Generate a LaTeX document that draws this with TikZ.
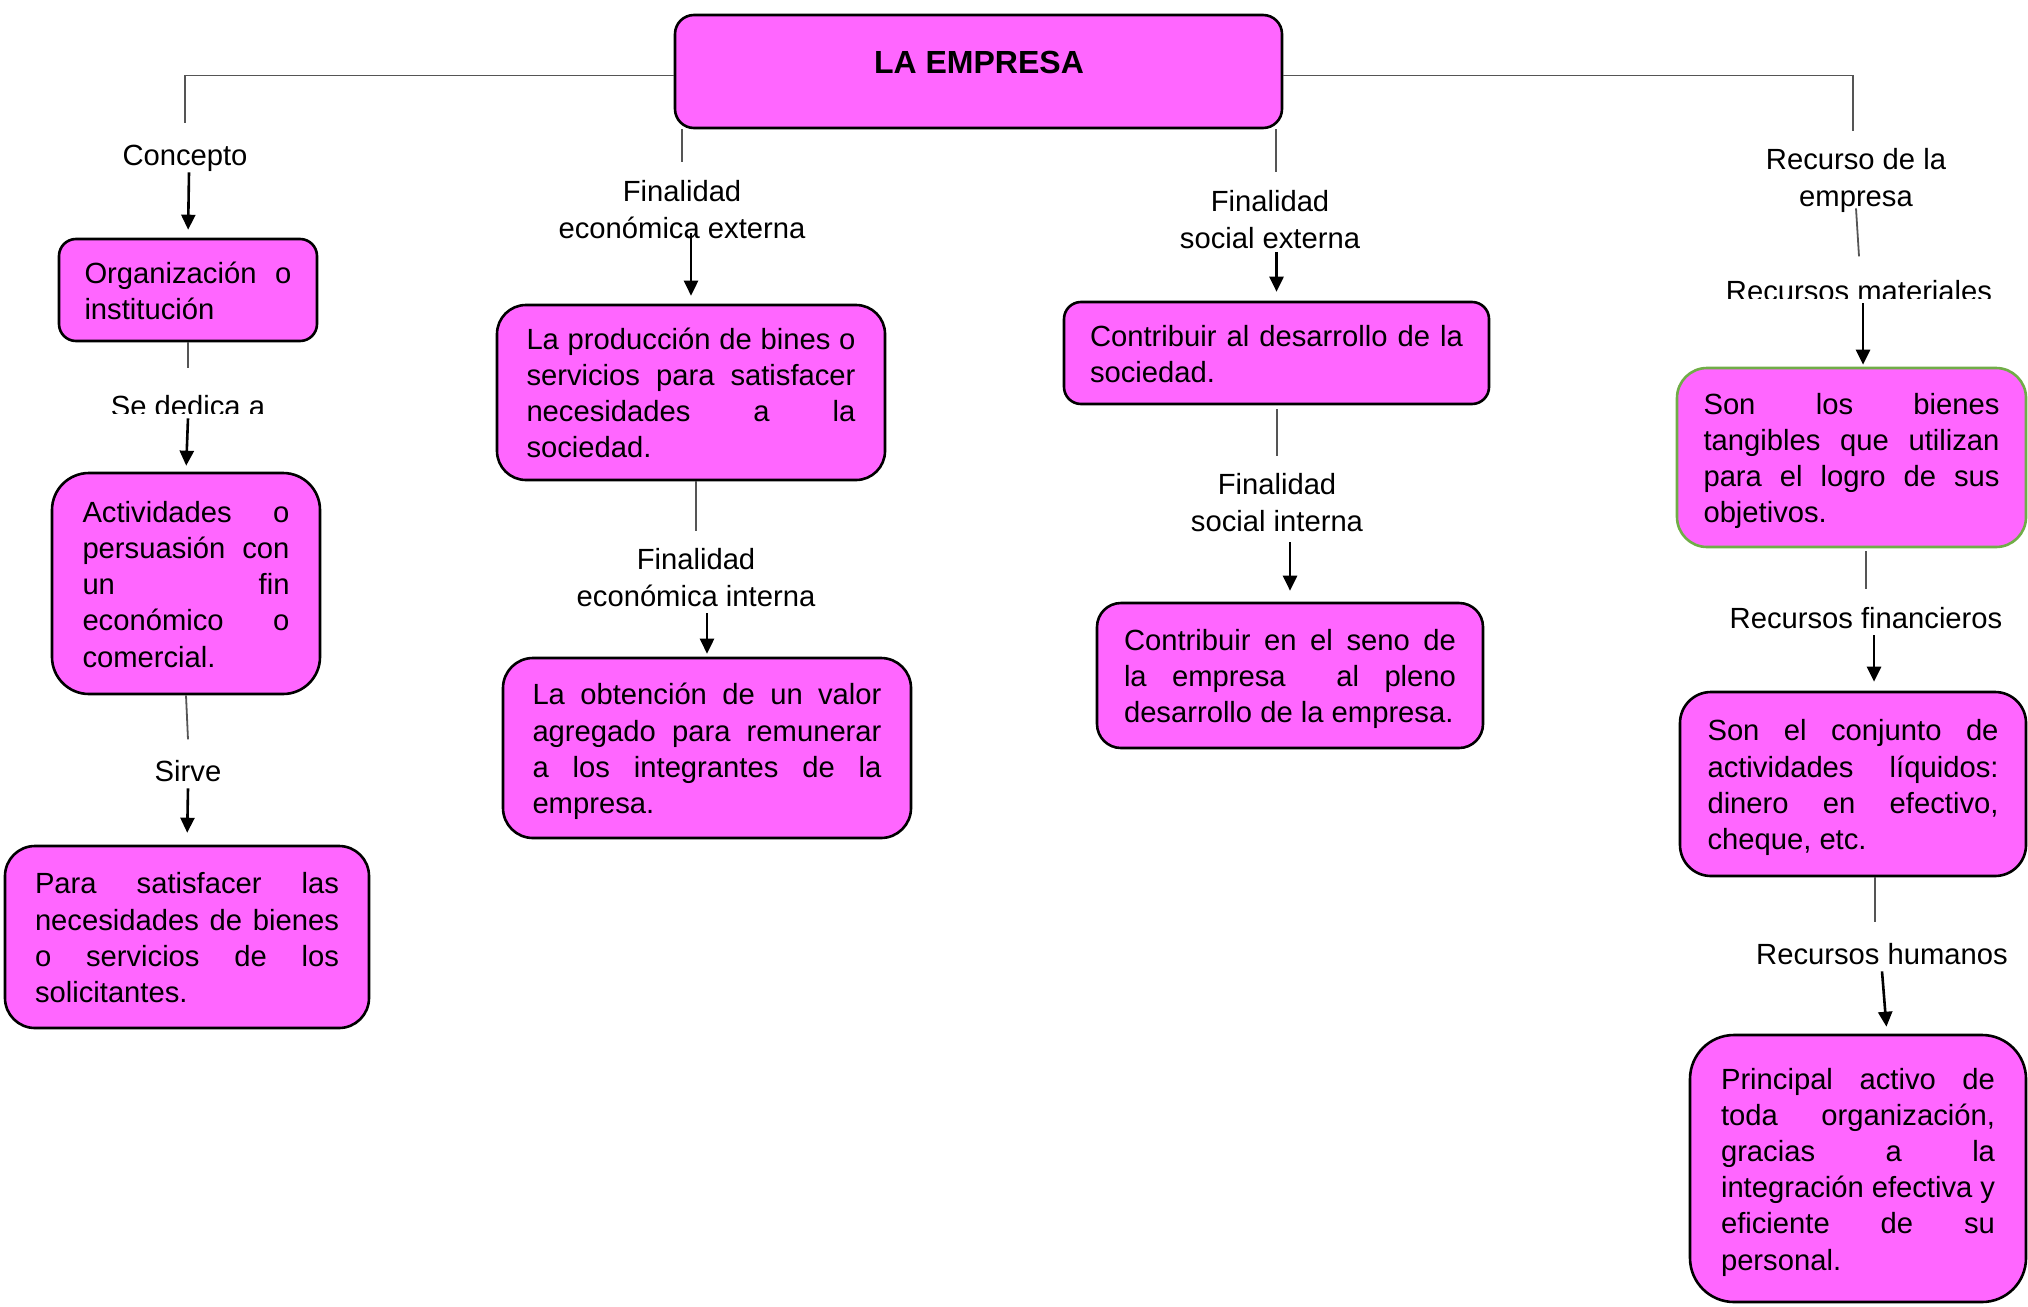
\documentclass[tikz,border=0pt]{standalone}
\usepackage{fontspec}
\setmainfont{Liberation Sans}
\usetikzlibrary{arrows.meta,calc}
\definecolor{boxpink}{RGB}{255,102,255}
\definecolor{boxgreen}{RGB}{112,173,71}
\definecolor{conngray}{RGB}{85,85,85}
\newcommand\mystrut{\rule[-3.5pt]{0pt}{18.1pt}}
\newcommand\curw{100pt}
\newcommand\jline[1]{\makebox[\curw][s]{\spaceskip=0pt\xspaceskip=0pt\mystrut#1}\\}
\newcommand\lline[1]{\mbox{\spaceskip=0pt\xspaceskip=0pt\mystrut#1}}
\tikzset{
  box/.style={draw=black, line width=1.3pt, fill=boxpink, inner sep=0pt, align=left,
    font=\fontsize{14.6}{18.1}\selectfont},
  tw/.style={text width=#1, execute at begin node={\renewcommand\curw{#1}}},
  lbl/.style={inner sep=0pt, align=center, anchor=base, font=\fontsize{14.6}{18.1}\selectfont},
  conn/.style={draw=conngray, line width=0.9pt},
  arr/.style={draw=black, line width=1.3pt, -{Triangle[length=7.5pt,width=7pt]}}
}
\begin{document}
\begin{tikzpicture}[x=0.5pt,y=-0.5pt]
\useasboundingbox (0,0) rectangle (2028,1306);
% main box
\node[box, minimum width=303.5pt, minimum height=56.5pt, rounded corners=9.5pt] (main) at (978.5,71.5) {};
\node[inner sep=0pt, anchor=base, font=\fontsize{16}{19}\selectfont\bfseries] (title) at (979,73) {LA EMPRESA};

% column 1
\node[lbl] (concepto) at (185,165) {\lline{Concepto}};
\node[box, minimum width=129pt, minimum height=51pt, rounded corners=8.5pt, tw=103.5pt] (org) at (188,290)
  {\jline{Organización o}\lline{institución}};
\begin{scope}
\clip (0,380) rectangle (400,413);
\node[lbl] (sededica) at (188,416) {\lline{Se dedica a}};
\end{scope}
\node[box, minimum width=134pt, minimum height=110.5pt, rounded corners=18.5pt, tw=103.5pt] (act) at (186,583.5)
  {\jline{Actividades o}\jline{persuasión con}\jline{un fin}\jline{económico o}\lline{comercial.}};
\node[lbl] (sirve) at (188,781) {\lline{Sirve}};
\node[box, minimum width=182pt, minimum height=91pt, rounded corners=15pt, tw=152pt] (para) at (187,937)
  {\jline{Para satisfacer las}\jline{necesidades de bienes}\jline{o servicios de los}\lline{solicitantes.}};

% column 2
\node[lbl] (finext) at (682,238) {\lline{Finalidad}\\\lline{económica externa}};
\node[box, minimum width=194pt, minimum height=87.5pt, rounded corners=14.5pt, tw=164.5pt] (prod) at (691,392.5)
  {\jline{La producción de bines o}\jline{servicios para satisfacer}\jline{necesidades a la}\lline{sociedad.}};
\node[lbl] (finint) at (696,606) {\lline{Finalidad}\\\lline{económica interna}};
\node[box, minimum width=204pt, minimum height=90pt, rounded corners=15pt, tw=174.5pt] (obt) at (707,748)
  {\jline{La obtención de un valor}\jline{agregado para remunerar}\jline{a los integrantes de la}\lline{empresa.}};

% column 3
\node[lbl] (socext) at (1270,248) {\lline{Finalidad}\\\lline{social externa}};
\node[box, minimum width=212.5pt, minimum height=51pt, rounded corners=8.5pt, tw=186.5pt] (contrib) at (1276.5,353)
  {\jline{Contribuir al desarrollo de la}\lline{sociedad.}};
\node[lbl] (socint) at (1277,531) {\lline{Finalidad}\\\lline{social interna}};
\node[box, minimum width=193pt, minimum height=72.5pt, rounded corners=12pt, tw=166pt] (seno) at (1290,675.5)
  {\jline{Contribuir en el seno de}\jline{la empresa \ al pleno}\lline{desarrollo de la empresa.}};

% column 4
\node[lbl] (recurso) at (1856,206) {\lline{Recurso de la}\\\lline{empresa}};
\begin{scope}
\clip (1600,260) rectangle (2028,298);
\node[lbl] (materiales) at (1859,301) {\lline{Recursos materiales}};
\end{scope}
\node[box, draw=boxgreen, minimum width=174.5pt, minimum height=89.5pt, rounded corners=15pt, tw=148pt] (bienes) at (1851.5,457.5)
  {\jline{Son los bienes}\jline{tangibles que utilizan}\jline{para el logro de sus}\lline{objetivos.}};
\node[lbl] (financieros) at (1866,628) {\lline{Recursos financieros}};
\node[box, minimum width=173pt, minimum height=92pt, rounded corners=15.5pt, tw=145.5pt] (fin) at (1853,784)
  {\jline{Son el conjunto de}\jline{actividades líquidos:}\jline{dinero en efectivo,}\lline{cheque, etc.}};
\node[lbl] (humanos) at (1882,964) {\lline{Recursos humanos}};
\node[box, minimum width=168pt, minimum height=133.5pt, rounded corners=22pt, tw=137pt] (hum) at (1858,1168.5)
  {\jline{Principal activo de}\jline{toda organización,}\jline{gracias a la}\jline{integración efectiva y}\jline{eficiente de su}\lline{personal.}};

% connectors column 1
\draw[conn] ([yshift=-2pt]main.west) -| ([yshift=6.4pt]concepto.north);
\draw[arr, shorten >=4pt] ([xshift=2pt]concepto.south) -- (org.north);
\draw[conn] (org.south) -- ([yshift=9pt]sededica.north);
\draw[arr, shorten >=3pt] ([yshift=2.5pt]sededica.south) -- (act.north);
\draw[conn] (act.south) -- ([yshift=6pt]sirve.north);
\draw[arr, shorten >=6pt] (sirve.south) -- (para.north);

% connectors column 2
\draw[conn] (main.south -| finext.north) -- ([yshift=5pt]finext.north);
\draw[arr, shorten >=4pt] ($(finext.south -| prod.north)+(0pt,6pt)$) -- (prod.north);
\draw[conn] (prod.south -| finint.north) -- ([yshift=4.5pt]finint.north);
\draw[arr, shorten >=1.5pt] (finint.south -| obt.north) -- (obt.north);

% connectors column 3
\draw[conn] ($(main.south -| socext.north)+(3pt,0pt)$) -- ([xshift=3pt,yshift=5pt]socext.north);
\draw[arr, shorten >=4.5pt] ($(socext.south -| contrib.north)+(0pt,1.5pt)$) -- (contrib.north);
\draw[conn, shorten <=2pt] (contrib.south -| socint.north) -- ([yshift=4.5pt]socint.north);
\draw[arr, shorten <=2pt, shorten >=5.5pt] (socint.south -| seno.north) -- (seno.north);

% connectors column 4
\draw[conn] ([yshift=-2pt]main.east) -| ([xshift=-1.5pt,yshift=4.5pt]recurso.north);
\draw[conn] ([yshift=2.5pt]recurso.south) -- ([yshift=7.5pt]materiales.north);
\draw[arr, shorten >=1pt] ([xshift=2pt,yshift=2.5pt]materiales.south) -- ([xshift=2pt]materiales.south |- bienes.north);
\draw[conn, shorten <=1.5pt] (bienes.south -| financieros.north) -- ([yshift=4.5pt]financieros.north);
\draw[arr, shorten >=4.5pt] ([xshift=4pt]financieros.south) -- ([xshift=4pt]financieros.south |- fin.north);
\draw[conn] ([xshift=-3.5pt]fin.south -| humanos.north) -- ([xshift=-3.5pt,yshift=6pt]humanos.north);
\draw[arr, shorten >=3.5pt] (humanos.south) -- ([xshift=2.5pt]humanos.south |- hum.north);
\end{tikzpicture}
\end{document}
